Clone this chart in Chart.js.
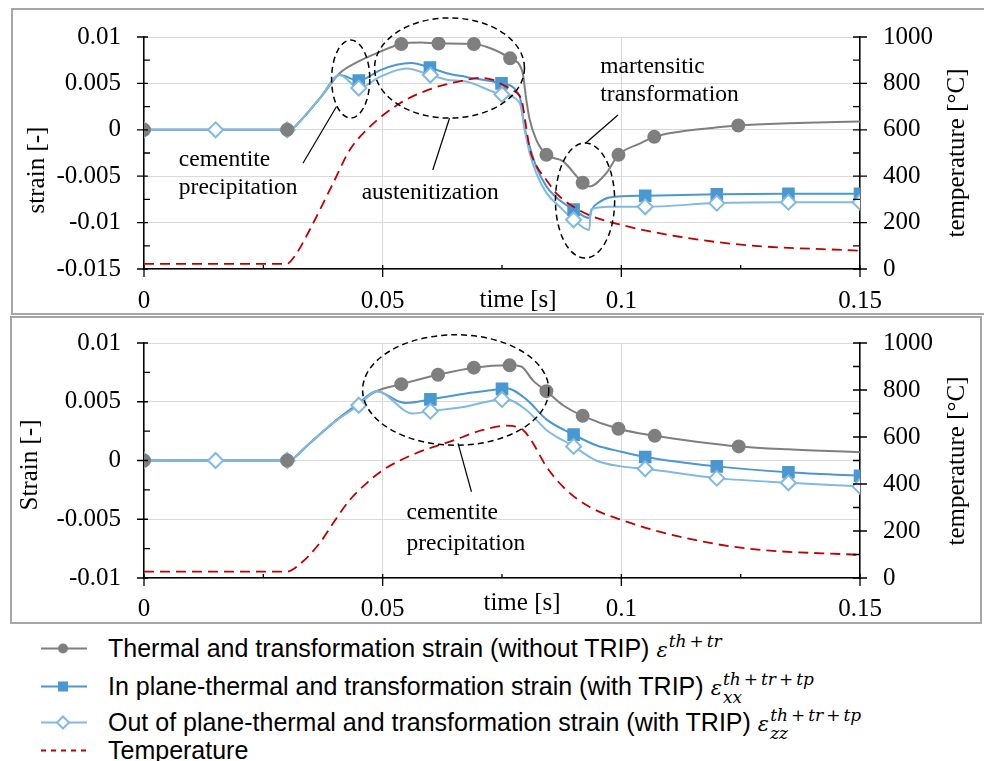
<!DOCTYPE html>
<html>
<head>
<meta charset="utf-8">
<script src="https://cdn.jsdelivr.net/npm/chart.js@4.4.1/dist/chart.umd.min.js"></script>
<style>
  body { margin: 0; background: #fff; width: 984px; height: 761px; position: relative; overflow: hidden; }
  .box { position: absolute; border: 2px solid #a6a6a6; box-sizing: border-box; }
  canvas { position: absolute; left: 0; }
  .item { position: absolute; left: 41px; transform: translateY(-50%); display: flex; align-items: center;
          white-space: nowrap; font-family: "Liberation Sans", Arial, sans-serif; font-size: 25px; color: #000; }
  .item svg { margin-right: 21px; }
  .eps { font-family: "DejaVu Serif", serif; font-style: italic; font-size: 21px; margin-left: 7px; }
  .ss { position: relative; display: inline-block; width: 0; height: 1em; }
  .ss i { position: absolute; left: 1px; font-size: 17px; line-height: 1; white-space: nowrap; }
  .ss b { font-weight: normal; font-style: normal; margin: 0 3px; }
  .sp { top: -3px; }
  .sb { top: 15px; }
</style>
</head>
<body>
<div class="box" style="left:11px;top:8px;width:980px;height:307px"></div>
<div class="box" style="left:10px;top:316px;width:972px;height:308px"></div>
<canvas id="topChart" width="984" height="316" style="top:0"></canvas>
<canvas id="botChart" width="984" height="310" style="top:316px"></canvas>

<div class="item" style="top:648px">
  <svg width="46" height="16"><line x1="0" y1="8" x2="46" y2="8" stroke="#7f7f7f" stroke-width="2"/><circle cx="22" cy="8" r="5" fill="#7f7f7f"/></svg>
  <span>Thermal and transformation strain (without TRIP)<span class="eps">ε<span class="ss"><i class="sp">th<b>+</b>tr</i></span></span></span>
</div>
<div class="item" style="top:686px">
  <svg width="46" height="16"><line x1="0" y1="8" x2="46" y2="8" stroke="#4a98d2" stroke-width="2"/><rect x="17" y="3" width="10" height="10" fill="#4a98d2"/></svg>
  <span>In plane-thermal and transformation strain (with TRIP)<span class="eps">ε<span class="ss"><i class="sp">th<b>+</b>tr<b>+</b>tp</i><i class="sb">xx</i></span></span></span>
</div>
<div class="item" style="top:722px">
  <svg width="46" height="16"><line x1="0" y1="8" x2="46" y2="8" stroke="#80b9e3" stroke-width="2"/><path d="M22 2 L28 8 L22 14 L16 8 Z" fill="#fff" stroke="#80b9e3" stroke-width="2"/></svg>
  <span>Out of plane-thermal and transformation strain (with TRIP)<span class="eps">ε<span class="ss"><i class="sp">th<b>+</b>tr<b>+</b>tp</i><i class="sb">zz</i></span></span></span>
</div>
<div class="item" style="top:750px">
  <svg width="46" height="16"><line x1="0" y1="8" x2="46" y2="8" stroke="#c00000" stroke-width="2" stroke-dasharray="5,5"/></svg>
  <span>Temperature</span>
</div>

<script>
// ---- top panel: time [s] / strain [-] / temperature [°C] ----
const thTopT   = [0.031, 0.033, 0.037, 0.041, 0.0455, 0.0494, 0.058, 0.0735, 0.0793, 0.0801, 0.0808, 0.0822, 0.0878, 0.0933, 0.0968, 0.1038, 0.1122, 0.1191, 0.135, 0.15];
const thTopV   = [0.0001, 0.0011, 0.0035, 0.0061, 0.0075, 0.0084, 0.0094, 0.0086, 0.0062, 0.0032, 0.0011, -0.0011, -0.0034, -0.0061, -0.0047, -0.0015, -0.0002, 0.0002, 0.0007, 0.0009];
const thTopMkT = [0, 0.03, 0.0539, 0.0617, 0.0691, 0.0767, 0.0843, 0.0919, 0.0994, 0.1069, 0.1245];
const thTopMkV = [0, 0, 0.00925, 0.0093, 0.00925, 0.0077, -0.0027, -0.0057, -0.0027, -0.00076, 0.00046];

const xxTopT   = [0, 0.03, 0.031, 0.033, 0.037, 0.041, 0.0494, 0.0529, 0.056, 0.0634, 0.0675, 0.0787, 0.0797, 0.0808, 0.0822, 0.0843, 0.0871, 0.0933, 0.0938, 0.0954, 0.0975];
const xxTopV   = [0, 0, 0.0001, 0.0011, 0.0035, 0.0059, 0.0064, 0.0070, 0.0072, 0.0061, 0.0057, 0.0036, 0.0003, -0.0018, -0.0040, -0.0061, -0.0076, -0.0095, -0.0086, -0.0078, -0.0073];
const xxTopMkT = [0.045, 0.0599, 0.0749, 0.09, 0.105, 0.12, 0.135, 0.15];
const xxTopMkV = [0.0053, 0.0067, 0.0050, -0.0086, -0.0071, -0.00695, -0.0069, -0.0069];

const zzTopT   = [0.031, 0.033, 0.037, 0.041, 0.0494, 0.055, 0.0634, 0.0675, 0.0787, 0.0799, 0.0808, 0.0822, 0.0843, 0.0871, 0.0933, 0.0936, 0.0975];
const zzTopV   = [0.0001, 0.0011, 0.0035, 0.0059, 0.0057, 0.0066, 0.0054, 0.0052, 0.0029, -0.0004, -0.0025, -0.0047, -0.0068, -0.0083, -0.0108, -0.0086, -0.0083];
const zzTopMkT = [0, 0.015, 0.03, 0.045, 0.06, 0.075, 0.09, 0.105, 0.12, 0.135, 0.15];
const zzTopMkV = [0, 0, 0, 0.0045, 0.0059, 0.0038, -0.0097, -0.0083, -0.0079, -0.0078, -0.0078];

const tempTopT = [0, 0.03, 0.0306, 0.032, 0.0347, 0.0396, 0.0431, 0.0466, 0.0536, 0.0605, 0.0675, 0.0703, 0.0731, 0.0759, 0.0775, 0.0792, 0.08, 0.0808, 0.0822, 0.0843, 0.0864, 0.09, 0.0933, 0.1, 0.1122, 0.1261, 0.15];
const tempTopV = [22, 22, 31, 68, 168, 369, 513, 599, 714, 779, 815, 824, 815, 786, 768, 720, 620, 520, 445, 384, 326, 268, 232, 190, 139, 103, 79];

// ---- bottom panel ----
const thBotT   = [0.031, 0.034, 0.0396, 0.0445, 0.0487, 0.079, 0.0815, 0.0878, 0.1157, 0.1349, 0.15];
const thBotV   = [0.0001, 0.0012, 0.0032, 0.0047, 0.0059, 0.0080, 0.0068, 0.0047, 0.0016, 0.00095, 0.0007];
const thBotMkT = [0, 0.03, 0.0539, 0.0616, 0.0691, 0.0766, 0.0843, 0.0919, 0.0994, 0.107, 0.1246];
const thBotMkV = [0, 0, 0.0065, 0.0073, 0.0079, 0.0081, 0.0059, 0.0038, 0.0027, 0.0021, 0.0012];

const xxBotT   = [0, 0.03, 0.031, 0.034, 0.0396, 0.0445, 0.0487, 0.0536, 0.055, 0.0675, 0.0759, 0.0801, 0.0843, 0.0947, 0.1];
const xxBotV   = [0, 0, 0.0001, 0.0012, 0.0032, 0.0047, 0.0059, 0.0050, 0.0049, 0.0057, 0.00615, 0.0052, 0.0035, 0.0013, 0.00075];
const xxBotMkT = [0.06, 0.075, 0.09, 0.105, 0.12, 0.135, 0.15];
const xxBotMkV = [0.0052, 0.0061, 0.0022, 0.0003, -0.0005, -0.001, -0.0013];

const zzBotT   = [0.031, 0.034, 0.0396, 0.0487, 0.0563, 0.0675, 0.0759, 0.0801, 0.0843, 0.0947, 0.1];
const zzBotV   = [0.0001, 0.0012, 0.0032, 0.0059, 0.0040, 0.0046, 0.0052, 0.0043, 0.0026, 0.0000, -0.0005];
const zzBotMkT = [0, 0.015, 0.03, 0.045, 0.06, 0.075, 0.09, 0.105, 0.12, 0.135, 0.15];
const zzBotMkV = [0, 0, 0, 0.0047, 0.0042, 0.0052, 0.0012, -0.0007, -0.0015, -0.0019, -0.0022];

const tempBotT = [0, 0.03, 0.032, 0.0368, 0.0396, 0.0431, 0.0466, 0.0501, 0.057, 0.0641, 0.071, 0.0759, 0.0794, 0.0815, 0.0843, 0.0885, 0.0933, 0.1, 0.1122, 0.1261, 0.15];
const tempBotV = [27, 27, 48, 148, 233, 332, 403, 460, 531, 580, 630, 648, 630, 573, 474, 374, 303, 247, 176, 126, 98];

const GRAY = '#7f7f7f', BLUE = '#4a98d2', LIGHT = '#80b9e3', RED = '#c00000';
const SERIF = '"Liberation Serif", "Times New Roman", serif';

function pts(t, v) { return t.map((x, i) => ({ x: x, y: v[i] })); }
function merged(t1, v1, t2, v2) {
  const all = pts(t1, v1).concat(pts(t2, v2)).sort((a, b) => a.x - b.x);
  return all.filter((p, i) => i === 0 || p.x !== all[i - 1].x);
}
function isMajor(v, step) { const k = v / step; return Math.abs(k - Math.round(k)) < 1e-6; }
function fmt(v, step) { return isMajor(v, step) ? String(parseFloat(v.toFixed(4))) : ''; }

function strainSets(th, thMk, xx, xxMk, zz, zzMk, temp) {
  const line = (data, color, order) => ({ data, borderColor: color, borderWidth: 2, pointRadius: 0,
    cubicInterpolationMode: 'monotone', fill: false, order });
  const marks = (data, style, r, bg, color, order) => ({ data, showLine: false, pointStyle: style, pointRadius: r,
    backgroundColor: bg, borderColor: color, borderWidth: 2, order });
  return [
    { data: pts(temp[0], temp[1]), yAxisID: 'yT', borderColor: RED, borderWidth: 1.8, borderDash: [10, 6],
      pointRadius: 0, cubicInterpolationMode: 'monotone', fill: false, order: 0 },
    marks(pts(thMk[0], thMk[1]), 'circle', 6, GRAY, GRAY, 1),
    marks(pts(zzMk[0], zzMk[1]), 'rectRot', 7.5, '#fff', LIGHT, 2),
    marks(pts(xxMk[0], xxMk[1]), 'rect', 7.5, BLUE, BLUE, 3),
    line(merged(zz[0], zz[1], zzMk[0], zzMk[1]), LIGHT, 4),
    line(merged(xx[0], xx[1], xxMk[0], xxMk[1]), BLUE, 5),
    line(merged(th[0], th[1], thMk[0], thMk[1]), GRAY, 6)
  ];
}

function makeAnnot(cfg) {
  return {
    id: 'annot',
    afterDatasetsDraw(chart) {
      const ctx = chart.ctx, xs = chart.scales.x, ys = chart.scales.y, yt = chart.scales.yT;
      const { left, right, bottom } = chart.chartArea;
      const px = t => xs.getPixelForValue(t), py = v => ys.getPixelForValue(v);
      ctx.save();
      // tick marks: major cross the axis, minor inside
      ctx.strokeStyle = '#000';
      ctx.lineWidth = 1.3;
      ctx.beginPath();
      xs.ticks.forEach(t => {
        const p = px(t.value), maj = isMajor(t.value, 0.05);
        ctx.moveTo(p, bottom - 4); ctx.lineTo(p, bottom + (maj ? 8 : 0));
      });
      ys.ticks.forEach(t => {
        const p = py(t.value), maj = isMajor(t.value, 0.005);
        ctx.moveTo(left - (maj ? 7 : 0), p); ctx.lineTo(left + (maj ? 4 : 6), p);
      });
      yt.ticks.forEach(t => {
        const p = yt.getPixelForValue(t.value), maj = t.value % 200 === 0;
        ctx.moveTo(right - 7, p); ctx.lineTo(right + (maj ? 7 : 0), p);
      });
      ctx.stroke();

      // dashed ellipses
      ctx.setLineDash([6, 4]);
      ctx.lineWidth = 1.5;
      cfg.ellipses.forEach(e => {
        const cx = px(e.t), cy = py(e.s);
        const rx = px(e.t + e.dt) - cx, ry = cy - py(e.s + e.ds);
        ctx.beginPath(); ctx.ellipse(cx, cy, rx, ry, 0, 0, Math.PI * 2); ctx.stroke();
      });
      // pointer lines
      ctx.setLineDash([]);
      ctx.lineWidth = 1.2;
      cfg.pointers.forEach(l => {
        ctx.beginPath(); ctx.moveTo(px(l[0]), py(l[1])); ctx.lineTo(px(l[2]), py(l[3])); ctx.stroke();
      });
      // annotation texts
      ctx.fillStyle = '#000';
      ctx.font = '23.5px ' + SERIF;
      ctx.textAlign = 'left';
      ctx.textBaseline = 'middle';
      cfg.notes.forEach(n => ctx.fillText(n.text, px(n.t), py(n.s)));

      // axis titles
      ctx.font = '25px ' + SERIF;
      ctx.textAlign = 'center';
      cfg.titles.forEach(a => {
        ctx.save();
        ctx.translate(a.x, a.y);
        if (a.rot) ctx.rotate(-Math.PI / 2);
        ctx.fillText(a.text, 0, 0);
        ctx.restore();
      });
      ctx.restore();
    }
  };
}

function makeChart(id, cfg) {
  const font = { family: SERIF, size: 25 };
  const fitY = w => s => { s.width = w; s.paddingTop = 0; s.paddingBottom = 0; };
  return new Chart(document.getElementById(id), {
    type: 'line',
    data: { datasets: cfg.datasets },
    options: {
      responsive: false,
      animation: false,
      events: [],
      layout: { padding: { top: cfg.padTop, left: 0, right: 0, bottom: 0 } },
      plugins: { legend: { display: false }, tooltip: { enabled: false } },
      scales: {
        x: {
          type: 'linear', min: 0, max: 0.15,
          afterFit: s => { s.height = cfg.xH; s.paddingLeft = 0; s.paddingRight = 0; },
          ticks: { stepSize: 0.025, autoSkip: false, maxRotation: 0, padding: cfg.xPad, color: '#000', font,
                   callback: v => fmt(v, 0.05) },
          grid: { drawTicks: false, lineWidth: 1, color: c => isMajor(c.tick.value, 0.05) ? '#d9d9d9' : 'rgba(0,0,0,0)' },
          border: { color: '#000', width: 1.5 }
        },
        y: {
          position: 'left', min: cfg.yMin, max: 0.01,
          afterFit: fitY(144),
          ticks: { stepSize: 0.0025, autoSkip: false, padding: 23, color: '#000', font,
                   callback: v => fmt(v, 0.005) },
          grid: { drawTicks: false, lineWidth: 1, color: c => isMajor(c.tick.value, 0.005) ? '#d9d9d9' : 'rgba(0,0,0,0)' },
          border: { color: '#000', width: 1.5 }
        },
        yT: {
          position: 'right', min: 0, max: 1000,
          afterFit: fitY(124),
          ticks: { stepSize: 100, autoSkip: false, padding: 23, color: '#000', font,
                   callback: v => (v % 200 === 0 ? String(v) : '') },
          grid: { drawOnChartArea: false, drawTicks: false },
          border: { color: '#000', width: 1.5 }
        }
      }
    },
    plugins: [makeAnnot(cfg)]
  });
}

makeChart('topChart', {
  padTop: 37, xH: 47, xPad: 17, yMin: -0.015,
  datasets: strainSets([thTopT, thTopV], [thTopMkT, thTopMkV], [xxTopT, xxTopV], [xxTopMkT, xxTopMkV],
                       [zzTopT, zzTopV], [zzTopMkT, zzTopMkV], [tempTopT, tempTopV]),
  ellipses: [
    { t: 0.0433, s: 0.00547, dt: 0.004, ds: 0.0042 },
    { t: 0.064, s: 0.00666, dt: 0.0157, ds: 0.0054 },
    { t: 0.0924, s: -0.00762, dt: 0.0062, ds: 0.0062 }
  ],
  pointers: [
    [0.0403, 0.00249, 0.0333, -0.00361],
    [0.064, 0.00124, 0.0605, -0.00433],
    [0.0993, 0.00159, 0.0925, -0.00145]
  ],
  notes: [
    { text: 'cementite', t: 0.0073, s: -0.00325 },
    { text: 'precipitation', t: 0.0073, s: -0.00627 },
    { text: 'austenitization', t: 0.0456, s: -0.00681 },
    { text: 'martensitic', t: 0.0956, s: 0.0068 },
    { text: 'transformation', t: 0.0956, s: 0.00375 }
  ],
  titles: [
    { text: 'strain [-]', x: 37, y: 170, rot: true },
    { text: 'temperature [°C]', x: 957, y: 153, rot: true },
    { text: 'time [s]', x: 518, y: 300, rot: false }
  ]
});

makeChart('botChart', {
  padTop: 27, xH: 48, xPad: 16, yMin: -0.01,
  datasets: strainSets([thBotT, thBotV], [thBotMkT, thBotMkV], [xxBotT, xxBotV], [xxBotMkT, xxBotMkV],
                       [zzBotT, zzBotV], [zzBotMkT, zzBotMkV], [tempBotT, tempBotV]),
  ellipses: [
    { t: 0.0653, s: 0.0060, dt: 0.0195, ds: 0.0047 }
  ],
  pointers: [
    [0.0658, 0.00146, 0.0686, -0.00266]
  ],
  notes: [
    { text: 'cementite', t: 0.055, s: -0.00449 },
    { text: 'precipitation', t: 0.055, s: -0.00705 }
  ],
  titles: [
    { text: 'Strain [-]', x: 30, y: 149, rot: true },
    { text: 'temperature [°C]', x: 957, y: 145, rot: true },
    { text: 'time [s]', x: 522, y: 287, rot: false }
  ]
});
</script>
</body>
</html>
